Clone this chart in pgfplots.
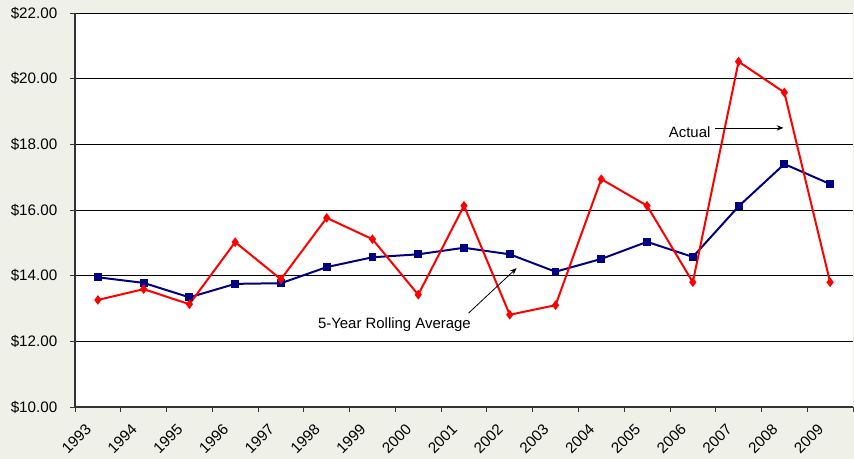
\documentclass[border=0pt]{standalone}
\usepackage{pgfplots}
\pgfplotsset{compat=1.18}
\usepackage{fontspec}
\setmainfont{Liberation Sans}
\usetikzlibrary{arrows.meta}
\definecolor{bg}{RGB}{239,240,232}
\definecolor{navyb}{RGB}{0,0,128}
\begin{document}
\begin{tikzpicture}[x=1pt,y=1pt]
\fill[bg, use as bounding box] (-56.25,-39) rectangle (584.25,305.25);
\begin{axis}[at={(0,0)}, anchor=south west, scale only axis,
 width=583.5pt, height=295.5pt,
 xmin=-0.5, xmax=16.5, ymin=10, ymax=22,
 axis background/.style={fill=white},
 axis x line*=bottom, axis y line*=left,
 axis line style={black!80, line width=0.8pt},
 ytick={10,12,14,16,18,20,22},
 yticklabels={\$10.00,\$12.00,\$14.00,\$16.00,\$18.00,\$20.00,\$22.00},
 ymajorgrids, grid style={black, line width=0.6pt},
 xtick={0,...,16},
 xticklabels={1993,1994,1995,1996,1997,1998,1999,2000,2001,2002,2003,2004,2005,2006,2007,2008,2009},
 major x tick style={draw=none},
 minor xtick={-0.5,0.5,...,16.5},
 minor tick length=3.75pt, major tick length=3.75pt,
 tick align=outside,
 tick style={black!80, line width=0.6pt},
 ticklabel style={font=\fontsize{11.4}{13}\selectfont},
 xticklabel style={xshift=-10pt, yshift=-6.5pt, rotate=45, anchor=north east, inner sep=1pt},
 yticklabel style={xshift=-6pt},
 clip=false,
]
\addplot[navyb, line width=1.5pt, mark=square*, mark size=2.2pt, mark options={solid}] coordinates {
(0,13.95) (1,13.78) (2,13.34) (3,13.75) (4,13.77) (5,14.26) (6,14.56) (7,14.65) (8,14.85)
(9,14.65) (10,14.12) (11,14.51) (12,15.03) (13,14.57) (14,16.11) (15,17.40) (16,16.79)};
\addplot[red, line width=1.5pt, mark=diamond*, mark size=2.4pt, mark options={solid}] coordinates {
(0,13.26) (1,13.59) (2,13.13) (3,15.02) (4,13.89) (5,15.76) (6,15.11) (7,13.42) (8,16.13)
(9,12.81) (10,13.10) (11,16.94) (12,16.13) (13,13.80) (14,20.52) (15,19.58) (16,13.80)};
\node[font=\fontsize{11.2}{13}\selectfont] at (axis cs:12.93,18.38) {Actual};
\draw[black, line width=0.6pt, -{Stealth[length=5pt,width=4pt]}] (axis cs:13.49,18.50) -- (axis cs:14.98,18.50);
\node[font=\fontsize{11.2}{13}\selectfont] at (axis cs:6.48,12.50) {5-Year Rolling Average};
\draw[black, line width=0.6pt, -{Stealth[length=5pt,width=4pt]}] (axis cs:8.10,12.86) -- (axis cs:9.15,14.23);
\end{axis}
\end{tikzpicture}
\end{document}
